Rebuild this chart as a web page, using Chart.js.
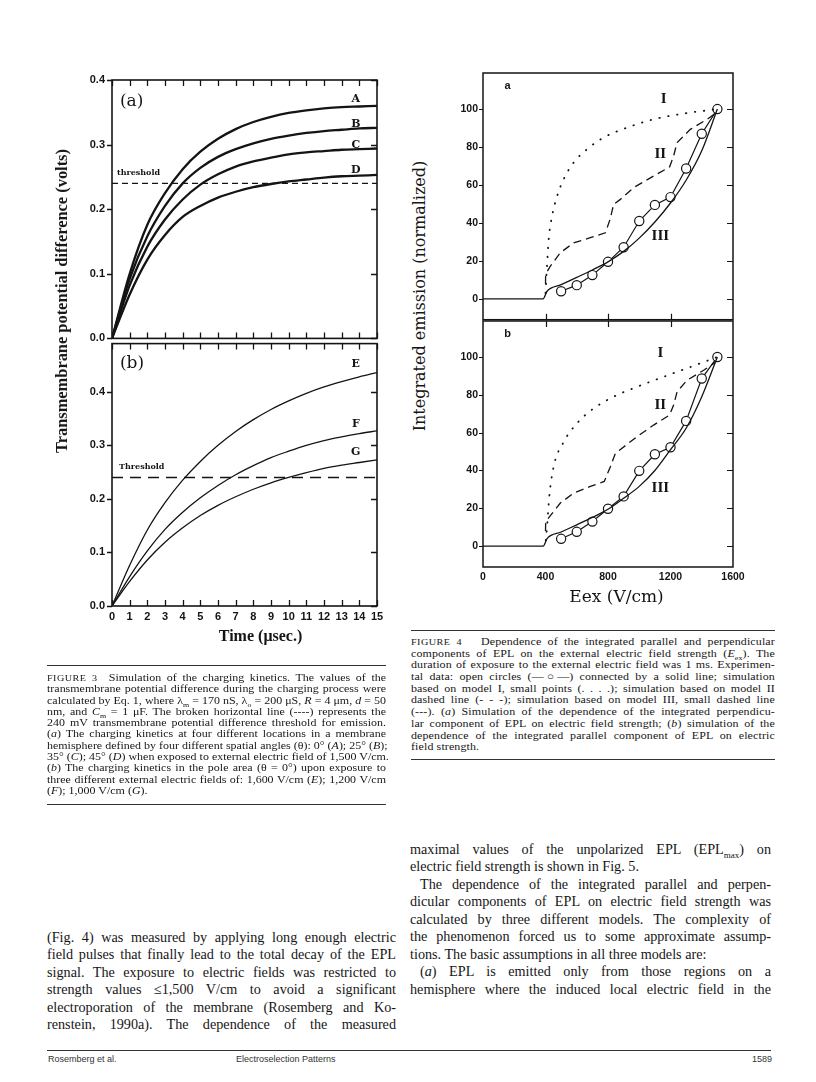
<!DOCTYPE html>
<html><head><meta charset="utf-8">
<script src="https://cdn.jsdelivr.net/npm/chart.js@4/dist/chart.umd.min.js"></script>
<style>
html,body{margin:0;padding:0;background:#fff;}
body{width:816px;height:1082px;position:relative;overflow:hidden;font-family:"Liberation Serif","Times New Roman",serif;color:#161616;}
canvas{position:absolute;}
.rule{position:absolute;height:0;border-top:1.6px solid #333;}
.blk{position:absolute;}
.ln{text-align:justify;text-align-last:justify;white-space:nowrap;overflow:visible;}
.ln.l{text-align-last:left;}
.cap{font-size:10.6px;transform-origin:0 0;transform:scaleX(1.13);}
.cap .ln{height:11.3px;line-height:11.3px;}
.cap4{letter-spacing:0.1px;}
.cap4 .ln{height:11.7px;line-height:11.7px;}
.body{font-size:14.2px;}
.body .ln{height:17.45px;line-height:17.45px;}
.sc{font-size:9px;letter-spacing:0.4px;}
.ind{padding-left:10px;}
.yt{position:absolute;white-space:nowrap;transform:translate(-50%,-50%) rotate(-90deg);}
.foot{position:absolute;font-family:"Liberation Sans",Arial,sans-serif;font-size:9px;color:#333;}
sub{font-size:7px;}
</style>
</head><body>
<canvas id="c3a" width="360" height="302" style="left:30px;top:50px"></canvas>
<canvas id="c3b" width="360" height="320" style="left:30px;top:330px"></canvas>
<canvas id="c4a" width="320" height="288" style="left:430px;top:43px"></canvas>
<canvas id="c4b" width="320" height="300" style="left:430px;top:309px"></canvas>

<div class="yt" style="left:62px;top:301px;font:bold 16.4px 'Liberation Serif',serif;">Transmembrane potential difference (volts)</div>
<div class="yt" style="left:419px;top:296px;font:16px 'DejaVu Serif',serif;">Integrated emission (normalized)</div>

<div class="rule" style="left:47px;top:665px;width:339px"></div>
<div class="blk cap" style="left:47px;top:672px;width:300px">
<div class="ln"><span class="sc">FIGURE 3</span>&nbsp; Simulation of the charging kinetics. The values of the</div>
<div class="ln">transmembrane potential difference during the charging process were</div>
<div class="ln">calculated by Eq. 1, where λ<sub>m</sub> = 170 nS, λ<sub>o</sub> = 200 μS, <i>R</i> = 4 μm, <i>d</i> = 50</div>
<div class="ln">nm, and <i>C</i><sub>m</sub> = 1 μF. The broken horizontal line (----) represents the</div>
<div class="ln">240 mV transmembrane potential difference threshold for emission.</div>
<div class="ln">(<i>a</i>) The charging kinetics at four different locations in a membrane</div>
<div class="ln">hemisphere defined by four different spatial angles (θ): 0° (<i>A</i>); 25° (<i>B</i>);</div>
<div class="ln">35° (<i>C</i>); 45° (<i>D</i>) when exposed to external electric field of 1,500 V/cm.</div>
<div class="ln">(<i>b</i>) The charging kinetics in the pole area (θ = 0°) upon exposure to</div>
<div class="ln">three different external electric fields of: 1,600 V/cm (<i>E</i>); 1,200 V/cm</div>
<div class="ln l">(<i>F</i>); 1,000 V/cm (<i>G</i>).</div>
</div>
<div class="rule" style="left:47px;top:804px;width:339px"></div>

<div class="rule" style="left:411px;top:630px;width:364px"></div>
<div class="blk cap cap4" style="left:411px;top:636px;width:322px">
<div class="ln"><span class="sc">FIGURE 4</span>&nbsp;&nbsp; Dependence of the integrated parallel and perpendicular</div>
<div class="ln">components of EPL on the external electric field strength (<i>E</i><sub>ex</sub>). The</div>
<div class="ln">duration of exposure to the external electric field was 1 ms. Experimen-</div>
<div class="ln">tal data: open circles (—○—) connected by a solid line; simulation</div>
<div class="ln">based on model I, small points (. . . .); simulation based on model II</div>
<div class="ln">dashed line (- - -); simulation based on model III, small dashed line</div>
<div class="ln">(---). (<i>a</i>) Simulation of the dependence of the integrated perpendicu-</div>
<div class="ln">lar component of EPL on electric field strength; (<i>b</i>) simulation of the</div>
<div class="ln">dependence of the integrated parallel component of EPL on electric</div>
<div class="ln l">field strength.</div>
</div>
<div class="rule" style="left:411px;top:759px;width:364px"></div>

<div class="blk body" style="left:47px;top:929px;width:349px">
<div class="ln">(Fig. 4) was measured by applying long enough electric</div>
<div class="ln">field pulses that finally lead to the total decay of the EPL</div>
<div class="ln">signal. The exposure to electric fields was restricted to</div>
<div class="ln">strength values ≤1,500 V/cm to avoid a significant</div>
<div class="ln">electroporation of the membrane (Rosemberg and Ko-</div>
<div class="ln">renstein, 1990a). The dependence of the measured</div>
</div>
<div class="blk body" style="left:410px;top:841px;width:361px">
<div class="ln">maximal values of the unpolarized EPL (EPL<sub style="font-size:9px">max</sub>) on</div>
<div class="ln l">electric field strength is shown in Fig. 5.</div>
<div class="ln ind">The dependence of the integrated parallel and perpen-</div>
<div class="ln">dicular components of EPL on electric field strength was</div>
<div class="ln">calculated by three different models. The complexity of</div>
<div class="ln">the phenomenon forced us to some approximate assump-</div>
<div class="ln l">tions. The basic assumptions in all three models are:</div>
<div class="ln ind">(<i>a</i>) EPL is emitted only from those regions on a</div>
<div class="ln">hemisphere where the induced local electric field in the</div>
</div>

<div class="rule" style="left:47px;top:1050px;width:724px;border-top-width:1.4px"></div>
<div class="foot" style="left:48px;top:1054px">Rosemberg et al.</div>
<div class="foot" style="left:236px;top:1054px">Electroselection Patterns</div>
<div class="foot" style="left:752px;top:1054px">1589</div>

<script>
// ---------- Figure 3 data (time in µs, potential in volts) ----------
const fig3Time = [0,1,2,3,4,5,6,7,8,9,10,11,12,13,14,15];
const curveA = [0,0.100,0.176,0.225,0.262,0.289,0.309,0.324,0.335,0.343,0.349,0.353,0.356,0.358,0.359,0.360];
const curveB = [0,0.092,0.158,0.205,0.240,0.264,0.281,0.293,0.302,0.309,0.314,0.318,0.321,0.323,0.325,0.326];
const curveC = [0,0.082,0.142,0.184,0.215,0.238,0.254,0.266,0.274,0.280,0.285,0.288,0.290,0.292,0.293,0.294];
const curveD = [0,0.068,0.122,0.160,0.188,0.205,0.218,0.227,0.234,0.239,0.243,0.246,0.249,0.251,0.252,0.253];
const curveE = [0,0.076,0.142,0.193,0.235,0.270,0.300,0.326,0.348,0.367,0.383,0.397,0.409,0.419,0.428,0.436];
const curveF = [0,0.055,0.103,0.143,0.175,0.202,0.225,0.245,0.262,0.277,0.289,0.300,0.309,0.316,0.322,0.327];
const curveG = [0,0.046,0.086,0.119,0.146,0.169,0.188,0.204,0.218,0.230,0.240,0.249,0.257,0.263,0.268,0.273];
const thresholdVolts = 0.24;
const fig3XTicks = [0,1,2,3,4,5,6,7,8,9,10,11,12,13,14,15];
const fig3YTicks = [0,0.1,0.2,0.3,0.4];

// ---------- Figure 4 data (Eex in V/cm, emission normalized) ----------
const expEex = [500,600,700,800,900,1000,1100,1200,1300,1400,1500];
const expA = [4.0,7.2,12.5,19.5,27.2,41.0,49.5,53.6,68.7,87.0,100];
const expB = [3.9,7.6,13.0,19.8,26.3,39.8,48.6,52.3,66.2,88.6,100];
const model1A_Eex = [400,410,420,442,474,516,580,666,772,922,1092,1284,1500];
const model1A = [3,18,31,43.6,54,63,71.8,78.8,85,90.2,94.6,97.6,100];
const model1B_Eex = [402,410,424,452,516,602,708,836,985,1156,1327,1500];
const model1B = [3,10.5,26,42,55,65,72.8,79,84.2,89.5,94.7,100];
const model2A_Eex = [400,401,431,495,580,687,783,813,836,879,964,1092,1194,1220,1242,1327,1434,1490];
const model2A = [8,13,17.2,24.3,29.5,32.2,34.8,41.8,49.8,52.4,58.6,64.7,69.5,75.3,82.3,89.3,94.6,98];
const model2B_Eex = [400,401,420,495,580,687,776,815,847,890,986,1092,1194,1220,1242,1306,1412,1485];
const model2B = [8,12,15,22.8,28,31.6,34.2,42,49,51.8,57.9,64,69.3,74.6,81.6,87.7,93,97];
const model3_Eex = [0,385,410,500,600,700,800,900,1000,1100,1200,1300,1400,1500];
const model3A = [0,0,4,7.5,11.3,15.2,19.5,25,32,40.5,50.5,62.5,78,100];
const model3B = [0,0,4,7.5,11.3,15.2,19.5,25.3,31.6,40,51,62.3,79,100];
const fig4XTicks = [0,400,800,1200,1600];
const fig4YTicks = [0,20,40,60,80,100];

const pts = (xs, ys) => xs.map((x, i) => ({x, y: ys[i]}));
const INK = '#141414';
const sansBold = (s) => ({family: "'Liberation Sans', Arial, sans-serif", weight: 'bold', size: s});

const framePlugin = {
  id: 'frame',
  afterDatasetsDraw(chart, args, o) {
    const {ctx, chartArea: a, scales: {x, y}} = chart;
    ctx.save();
    ctx.strokeStyle = INK;
    ctx.lineWidth = o.lw;
    ctx.strokeRect(a.left, a.top, a.right - a.left, a.bottom - a.top);
    ctx.lineWidth = o.tlw;
    const L = o.len;
    ctx.beginPath();
    (o.xTicks || []).forEach(v => {
      const px = Math.round(x.getPixelForValue(v)) + 0.5;
      if (o.top) { ctx.moveTo(px, a.top); ctx.lineTo(px, a.top + L); }
      if (o.bottom) { ctx.moveTo(px, a.bottom); ctx.lineTo(px, a.bottom - L); }
    });
    (o.yTicks || []).forEach(v => {
      const py = Math.round(y.getPixelForValue(v)) + 0.5;
      if (o.left) { ctx.moveTo(a.left, py); ctx.lineTo(a.left - o.leftLen, py); }
      if (o.right) { ctx.moveTo(a.right, py); ctx.lineTo(a.right - L, py); }
    });
    ctx.stroke();
    ctx.fillStyle = INK;
    ctx.textBaseline = 'middle';
    (o.labels || []).forEach(l => {
      ctx.font = l.font;
      ctx.textAlign = l.align || 'center';
      ctx.fillText(l.text, x.getPixelForValue(l.x), y.getPixelForValue(l.y));
    });
    ctx.restore();
  }
};

function lineDs(data, width, dash, extra) {
  return Object.assign({data, borderColor: INK, borderWidth: width, borderDash: dash || [],
    pointRadius: 0, fill: false, cubicInterpolationMode: 'monotone'}, extra || {});
}

function baseOpts(cfg) {
  return {
    responsive: false, animation: false, devicePixelRatio: 1,
    layout: {padding: cfg.padding},
    plugins: {legend: {display: false}, tooltip: {enabled: false}, frame: cfg.frame},
    scales: {
      x: {type: 'linear', min: cfg.xMin, max: cfg.xMax,
        grid: {display: false, drawTicks: false}, border: {display: false},
        afterBuildTicks: s => { s.ticks = cfg.xTicks.map(v => ({value: v})); },
        afterFit: s => { s.height = cfg.xHeight; },
        ticks: {display: cfg.xLabels, color: INK, font: cfg.xFont, padding: cfg.xPad, maxRotation: 0, autoSkip: false,
          callback: v => String(v)},
        title: cfg.xTitle || {display: false}},
      y: {type: 'linear', min: cfg.yMin, max: cfg.yMax,
        grid: {display: false, drawTicks: false}, border: {display: false},
        afterBuildTicks: s => { s.ticks = cfg.yTicks.map(v => ({value: v})); },
        afterFit: s => { s.width = cfg.yWidth; },
        ticks: {color: INK, font: cfg.yFont, padding: cfg.yPad, callback: cfg.yFmt}}
    }
  };
}

const serifB = "bold 11px 'DejaVu Serif', serif";

// Figure 3 (a)
new Chart(document.getElementById('c3a'), {
  type: 'line',
  data: {datasets: [
    lineDs(pts(fig3Time, curveA), 2.3),
    lineDs(pts(fig3Time, curveB), 2.3),
    lineDs(pts(fig3Time, curveC), 2.3),
    lineDs(pts(fig3Time, curveD), 2.3),
    lineDs(pts([0, 15], [thresholdVolts, thresholdVolts]), 1.4, [6, 4])
  ]},
  options: baseOpts({padding: {top: 30, right: 13, bottom: 0, left: 0},
    xMin: 0, xMax: 15, xTicks: fig3XTicks, xHeight: 10, xLabels: false, xFont: sansBold(11), xPad: 4,
    yMin: 0, yMax: 0.4, yTicks: fig3YTicks, yWidth: 82, yFont: sansBold(11), yPad: 7, yFmt: v => v.toFixed(1),
    frame: {lw: 1.6, tlw: 1.3, len: 6, leftLen: 5, top: true, bottom: true, left: true, right: true,
      xTicks: fig3XTicks, yTicks: fig3YTicks,
      labels: [
        {text: '(a)', x: 0.45, y: 0.367, font: "17px 'DejaVu Serif', serif", align: 'left'},
        {text: 'threshold', x: 0.28, y: 0.256, font: "bold 8px 'DejaVu Serif', serif", align: 'left'},
        {text: 'A', x: 13.8, y: 0.370, font: serifB},
        {text: 'B', x: 13.8, y: 0.331, font: serifB},
        {text: 'C', x: 13.8, y: 0.299, font: serifB},
        {text: 'D', x: 13.8, y: 0.260, font: serifB}
      ]}})
  , plugins: [framePlugin]
});

// Figure 3 (b)
new Chart(document.getElementById('c3b'), {
  type: 'line',
  data: {datasets: [
    lineDs(pts(fig3Time, curveE), 1.3),
    lineDs(pts(fig3Time, curveF), 1.3),
    lineDs(pts(fig3Time, curveG), 1.3),
    lineDs(pts([0, 15], [thresholdVolts, thresholdVolts]), 1.3, [11, 7])
  ]},
  options: baseOpts({padding: {top: 12, right: 13, bottom: 0, left: 0},
    xMin: 0, xMax: 15, xTicks: fig3XTicks, xHeight: 44, xLabels: true, xFont: sansBold(11), xPad: 4,
    xTitle: {display: true, text: '\u2003\u2003Time (μsec.)', color: INK, font: {family: "'Liberation Serif', serif", weight: 'bold', size: 16}, padding: {top: 0, bottom: 4}},
    yMin: 0, yMax: 0.49, yTicks: fig3YTicks, yWidth: 82, yFont: sansBold(11), yPad: 7, yFmt: v => v.toFixed(1),
    frame: {lw: 1.6, tlw: 1.3, len: 6, leftLen: 5, top: true, bottom: true, left: true, right: true,
      xTicks: fig3XTicks, yTicks: fig3YTicks,
      labels: [
        {text: '(b)', x: 0.45, y: 0.452, font: "17px 'DejaVu Serif', serif", align: 'left'},
        {text: 'Threshold', x: 0.4, y: 0.26, font: "bold 8px 'DejaVu Serif', serif", align: 'left'},
        {text: 'E', x: 13.8, y: 0.451, font: serifB},
        {text: 'F', x: 13.8, y: 0.340, font: serifB},
        {text: 'G', x: 13.8, y: 0.287, font: serifB}
      ]}})
  , plugins: [framePlugin]
});

function fig4Datasets(m1x, m1, m2x, m2, m3, exp) {
  return [
    lineDs(pts(model3_Eex, m3), 1.3),
    lineDs(pts(m2x, m2), 1.3, [8, 5], {cubicInterpolationMode: 'default', tension: 0}),
    lineDs(pts(m1x, m1), 1.8, [0.5, 8.5], {borderCapStyle: 'round'}),
    lineDs(pts(expEex, exp), 1.2, [], {cubicInterpolationMode: 'default', tension: 0,
      pointRadius: 4.6, pointBackgroundColor: '#fff', pointBorderColor: INK, pointBorderWidth: 1.2})
  ];
}
const romanFont = "bold 15px 'Liberation Serif', serif";

// Figure 4 (a)
new Chart(document.getElementById('c4a'), {
  type: 'line',
  data: {datasets: fig4Datasets(model1A_Eex, model1A, model2A_Eex, model2A, model3A, expA)},
  options: baseOpts({padding: {top: 30, right: 17, bottom: 0, left: 0},
    xMin: 0, xMax: 1600, xTicks: fig4XTicks, xHeight: 10, xLabels: false, xFont: sansBold(10.5), xPad: 4,
    yMin: -11, yMax: 119, yTicks: fig4YTicks, yWidth: 53, yFont: sansBold(10.5), yPad: 5, yFmt: v => String(v),
    frame: {lw: 1.5, tlw: 1.2, len: 6, leftLen: 4, top: false, bottom: true, left: true, right: true,
      xTicks: [400, 800, 1200], yTicks: fig4YTicks,
      labels: [
        {text: 'a', x: 157, y: 112.2, font: "bold 11px 'Liberation Sans', sans-serif"},
        {text: 'I', x: 1156, y: 105, font: romanFont},
        {text: 'II', x: 1135, y: 76, font: romanFont},
        {text: 'III', x: 1135, y: 33, font: romanFont}
      ]}})
  , plugins: [framePlugin]
});

// Figure 4 (b)
new Chart(document.getElementById('c4b'), {
  type: 'line',
  data: {datasets: fig4Datasets(model1B_Eex, model1B, model2B_Eex, model2B, model3B, expB)},
  options: baseOpts({padding: {top: 12, right: 17, bottom: 0, left: 0},
    xMin: 0, xMax: 1600, xTicks: fig4XTicks, xHeight: 42, xLabels: true, xFont: sansBold(10.5), xPad: 4,
    xTitle: {display: true, text: '\u2003Eex (V/cm)', color: INK, font: {family: "'DejaVu Serif', serif", size: 17}, padding: {top: 0, bottom: 1}},
    yMin: -11, yMax: 119, yTicks: fig4YTicks, yWidth: 53, yFont: sansBold(10.5), yPad: 5, yFmt: v => String(v),
    frame: {lw: 1.5, tlw: 1.2, len: 6, leftLen: 4, top: true, bottom: false, left: true, right: true,
      xTicks: [400, 800, 1200], yTicks: fig4YTicks,
      labels: [
        {text: 'b', x: 157, y: 112.3, font: "bold 11px 'Liberation Sans', sans-serif"},
        {text: 'I', x: 1135, y: 101.8, font: romanFont},
        {text: 'II', x: 1135, y: 74.6, font: romanFont},
        {text: 'III', x: 1135, y: 30.7, font: romanFont}
      ]}})
  , plugins: [framePlugin]
});
</script>
</body></html>
